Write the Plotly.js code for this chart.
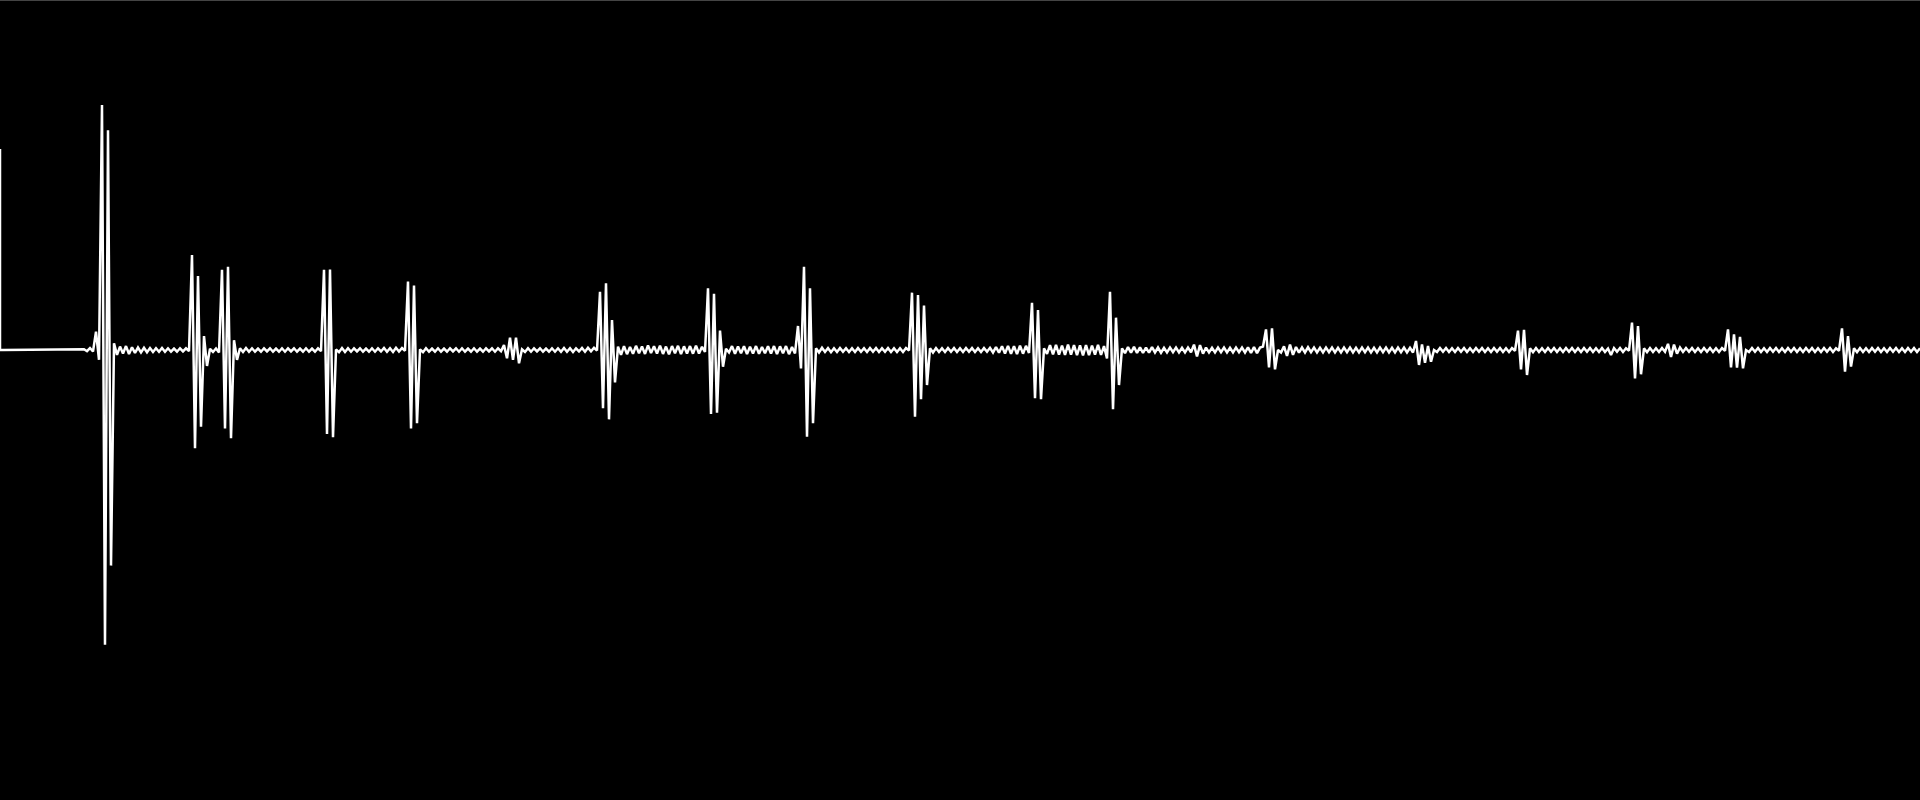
<!DOCTYPE html>
<html>
<head>
<meta charset="utf-8">
<script src="https://cdn.plot.ly/plotly-3.0.1.min.js"></script>
<style>
html,body{margin:0;padding:0;background:#000;overflow:hidden;}
#chart{width:1920px;height:800px;}
</style>
</head>
<body>
<div id="chart"></div>
<script>
// Level held before the recording starts (drawn as the step at sample 0)
const initialLevel = 82;

// Waveform amplitude, one value per sample
const amplitude = [
0,0,0,0,0,0,0,0,0,0,
0,0,0,0,0,0,0,0,0,0,
0,0,0,0,0,0,0,0,0.3,-0.5,
0.8,-0.6,7.5,-4,100,-120.3,89.7,-88,2.7,-2,
1.4,-1.4,1.6,-1.6,1.1,-1.2,1.0,-1.0,0.9,-0.9,
0.8,-0.8,0.7,-0.7,0.8,-0.7,0.7,-0.7,0.6,-0.7,
0.7,-0.6,0.7,-0.5,38.8,-40.1,30.2,-31.3,5.7,-6.5,
0.5,-0.8,0.6,-1.0,32.7,-32,34,-36,4,-4,
0.7,-0.8,0.8,-0.7,0.7,-0.7,0.6,-0.7,0.7,-0.6,
0.7,-0.7,0.6,-0.7,0.7,-0.7,0.7,-0.6,0.7,-0.7,
0.6,-0.7,0.7,-0.7,0.6,-0.7,0.7,-0.5,32.7,-34.3,
32.9,-35.6,0.2,-0.9,0.8,-0.8,0.7,-0.7,0.7,-0.6,
0.7,-0.7,0.6,-0.7,0.7,-0.7,0.7,-0.6,0.8,-0.7,
0.7,-0.8,0.9,-0.6,0.8,-0.3,27.9,-32,26.3,-29.9,
0.3,-0.9,0.7,-0.7,0.6,-0.7,0.7,-0.7,0.6,-0.7,
0.7,-0.6,0.7,-0.7,0.7,-0.7,0.6,-0.7,0.7,-0.7,
0.6,-0.7,0.7,-0.6,0.7,-0.7,0.7,-0.5,2,-3.4,
5,-4,5,-5.4,0.3,-0.8,0.7,-0.7,0.7,-0.6,
0.7,-0.7,0.6,-0.7,0.7,-0.7,0.7,-0.7,0.8,-0.7,
0.7,-0.8,0.7,-0.6,0.8,-0.7,0.9,-0.5,0.9,-0.2,
23.8,-23.8,27.2,-28.3,12.2,-13.2,1.4,-2.0,1.6,-1.7,
1.2,-1.5,1.7,-1.3,1.4,-1.6,1.9,-1.2,1.5,-1.4,
1.8,-1.6,1.4,-1.8,1.6,-1.3,1.7,-1.7,1.5,-1.4,
1.6,-1.5,1.8,-1.4,1.3,-0.8,25.2,-26.1,22.9,-25.6,
7.9,-6.8,0.5,-1.0,1.6,-1.5,1.4,-1.3,1.5,-1.6,
1.3,-1.4,1.6,-1.5,1.2,-1.3,1.5,-1.4,1.6,-1.7,
1.5,-1.3,1.6,-1.7,1.2,-1.4,9.8,-7.5,34,-35.4,
25.2,-29.9,0.7,-1.0,0.9,-0.8,0.8,-0.9,0.7,-0.8,
0.8,-0.7,0.7,-0.8,0.7,-0.8,0.8,-0.7,0.7,-0.8,
0.8,-0.7,0.8,-0.8,0.7,-0.7,0.8,-0.8,0.7,-0.8,
0.7,-0.8,0.8,-0.2,23.4,-27.2,22.4,-20.1,18.1,-14.3,
0.7,-1.0,0.8,-0.8,0.7,-0.8,0.8,-0.7,0.8,-0.8,
0.7,-0.8,0.8,-0.7,0.8,-0.8,0.7,-0.8,0.8,-0.7,
0.9,-1.0,1.2,-1.1,1.5,-1.4,1.7,-1.5,1.6,-1.7,
1.8,-1.5,1.7,-1.2,19.3,-19.7,16.3,-20.1,0.7,-1.6,
2.0,-1.8,2.1,-1.9,1.8,-2.0,2.2,-1.9,2.0,-2.1,
1.9,-2.2,2.0,-2.1,1.8,-1.9,2.1,-2.0,1.6,-3.4,
23.8,-24.2,13.2,-14.3,0.7,-1.3,1.2,-1.1,1.3,-1.2,
1.1,-1.2,1.0,-1.1,1.2,-1.0,1.0,-1.1,0.9,-1.0,
1.0,-0.9,1.0,-1.0,0.9,-1.0,1.0,-0.9,2.2,-2.6,
2.0,-1.5,1.0,-1.0,0.9,-1.0,1.0,-0.9,1.0,-1.0,
0.9,-1.0,1.0,-0.9,1.0,-1.0,1.1,-1.2,1.2,-1.3,
1.0,1.4,8.4,-7.1,8.8,-7.9,0.0,-1.0,1.5,-2.4,
2.2,-2.0,1.2,-1.1,1.0,-1.0,1.1,-0.9,1.0,-1.0,
0.9,-1.0,1.0,-0.9,1.0,-1.0,0.9,-1.0,1.0,-0.9,
1.0,-1.0,0.9,-1.0,1.0,-0.9,1.0,-1.0,0.9,-1.0,
1.0,-0.9,1.0,-1.0,0.9,-1.0,1.0,-0.9,1.0,-1.0,
0.9,-1.0,3.7,-6.1,2.3,-5.2,1.6,-4.8,0.0,-0.8,
0.8,-0.7,0.8,-0.8,0.7,-0.8,0.8,-0.7,0.8,-0.8,
0.7,-0.8,0.8,-0.7,0.8,-0.8,0.7,-0.8,0.8,-0.7,
0.8,-0.8,0.7,-0.8,0.8,-0.3,7.9,-7.9,8.2,-10.2,
0.7,-0.9,0.8,-0.8,0.7,-0.8,0.8,-0.7,0.8,-0.8,
0.7,-0.8,0.8,-0.7,0.8,-0.8,0.7,-0.8,0.8,-0.7,
0.8,-0.8,0.7,-0.8,0.8,-0.8,0.6,-2.0,0.8,-0.7,
0.8,-0.8,0.7,-0.3,11.2,-11.6,9.8,-9.9,0.7,-0.9,
0.8,-0.8,0.7,-0.8,0.8,-0.7,2.5,-2.8,2.2,-1.5,
1.0,-0.8,0.8,-0.7,0.8,-0.8,0.7,-0.8,0.8,-0.7,
0.8,-0.8,0.7,-0.8,0.8,-0.3,8.4,-7.1,6.4,-7.2,
5.4,-7.5,0.0,-0.8,0.8,-0.7,0.8,-0.8,0.7,-0.8,
0.8,-0.7,0.8,-0.8,0.7,-0.8,0.8,-0.7,0.8,-0.8,
0.7,-0.8,0.8,-0.7,0.8,-0.8,0.7,-0.8,0.8,-0.7,
0.8,-0.8,0.7,-0.3,8.8,-8.8,5.7,-6.8,0.7,-0.9,
0.8,-0.8,0.7,-0.8,0.8,-0.7,0.8,-0.8,0.7,-0.8,
0.8,-0.7,0.8,-0.8,0.7,-0.8,0.8,-0.7,0.8,-0.8,
0.7
];

// sample numbers; the held initial level sits at sample 0 before the first sample
const sampleIndex = amplitude.map((_, i) => i);
const xs = [0].concat(sampleIndex);
const ys = [initialLevel].concat(amplitude);

const trace = {
  x: xs,
  y: ys,
  type: 'scatter',
  mode: 'lines',
  line: {color: '#ffffff', width: 2.5},
  hoverinfo: 'skip'
};

const layout = {
  width: 1920,
  height: 800,
  margin: {l: 0, r: 0, t: 0, b: 0, pad: 0},
  paper_bgcolor: '#000000',
  plot_bgcolor: '#000000',
  showlegend: false,
  xaxis: {visible: false, range: [0, amplitude.length - 1], fixedrange: true},
  yaxis: {visible: false, range: [-183.67, 142.86], fixedrange: true},
  shapes: [{
    type: 'line', xref: 'paper', yref: 'paper',
    x0: 0, x1: 1, y0: 1, y1: 1,
    line: {color: '#444444', width: 2}
  }]
};

Plotly.newPlot('chart', [trace], layout, {staticPlot: true, displayModeBar: false});
</script>
</body>
</html>
